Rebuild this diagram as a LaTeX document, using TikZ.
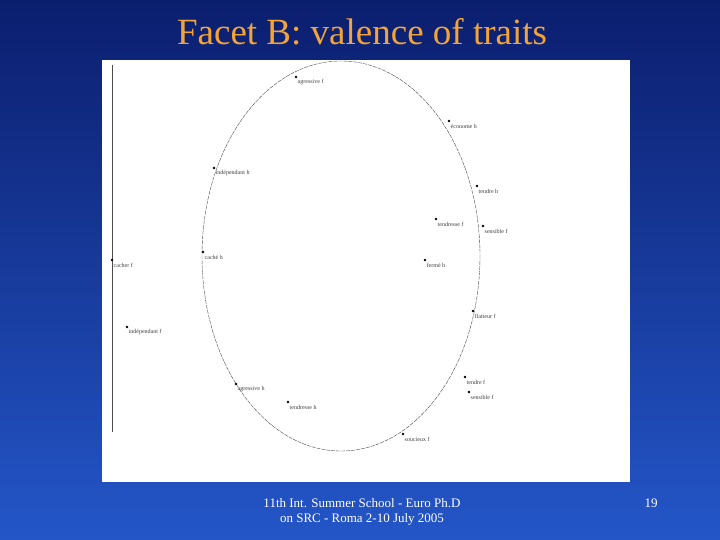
\documentclass[tikz,border=0pt]{standalone}
\usepackage{fontspec}
\setmainfont{Liberation Serif}
\definecolor{slidetop}{HTML}{0B1E6E}
\definecolor{slidebot}{HTML}{2456C8}
\definecolor{titleorange}{HTML}{F2A33A}
\tikzset{
  trait/.style={circle, fill=black, inner sep=0pt, minimum size=2.8pt},
  traitlabel/.style={anchor=west, inner sep=1pt, font=\fontsize{6}{7}\selectfont, text=black!75},
  footer/.style={text=white, font=\fontsize{13}{15}\selectfont, align=center}
}
\begin{document}
\begin{tikzpicture}[x=1pt, y=-1pt]
  % slide background
  \shade[top color=slidetop, bottom color=slidebot] (0,0) rectangle (720,540);
  \useasboundingbox (0,0) rectangle (720,540);
  \node[text=titleorange, font=\fontsize{37}{40}\selectfont] (title) at (362,32) {Facet B: valence of traits};
  % plot panel
  \fill[white] (102,60) rectangle (630,482);
  \draw[black!70, line width=0.5pt] (112,65) -- (112,432);
  \draw[black!70, line width=0.4pt, dash pattern=on 4pt off 1pt] (341,256) ellipse [x radius=139, y radius=195];
  % traits
  \foreach \name/\x/\y/\txt in {
    a/296/77/agressive f, b/449/121/économe h, c/214/168/indépendant h,
    d/477/186/tendre h, e/436/219/tendresse f, f/483/226/sensible f,
    g/203/252/caché h, h/112/260/cacher f, i/425/260/fermé h,
    j/473/311/flatteur f, k/127/327/indépendant f, l/236/384/agressive h,
    m/288/402/tendresse h, n/465/377/tendre f, o/469/392/sensible f,
    p/403/434/soucieux f}
  {
    \node[trait] (\name) at (\x,\y) {};
    \node[traitlabel] (\name-lab) at (\x+0.5,\y+5) {\txt};
  }
  \node[footer] (school) at (362,512) {11th Int. Summer School - Euro Ph.D\\on SRC - Roma 2-10 July 2005};
  \node[footer] (page) at (651,503) {19};
\end{tikzpicture}
\end{document}
